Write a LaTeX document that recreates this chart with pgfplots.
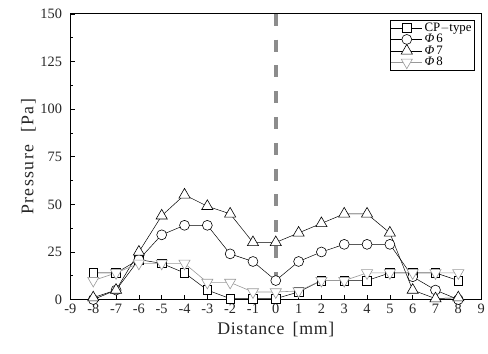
\documentclass[border=0pt]{standalone}
\usepackage{fontspec}
\setmainfont{Liberation Serif}
\usepackage{pgfplots}
\pgfplotsset{compat=1.18}
\definecolor{ltgray}{HTML}{999999}
\definecolor{dashgray}{HTML}{8C8C8C}
\begin{document}
\begin{tikzpicture}
\begin{axis}[
  name=ax,
  scale only axis,
  width=414bp, height=288bp,
  xmin=-9, xmax=9, ymin=0, ymax=150,
  xtick={-9,-8,...,9},
  ytick={0,25,...,150},
  minor ytick={12.5,37.5,...,137.5},
  tick align=inside,
  xtick pos=bottom, ytick pos=left,
  major tick length=5bp, minor tick length=3bp,
  tick style={black, line width=0.6bp},
  axis line style={line width=1.1bp},
  /pgf/number format/assume math mode=true,
  ticklabel style={font=\fontsize{14.5}{14.5}\selectfont, text=black!85},
  xticklabel style={yshift=-1bp},
  yticklabel style={xshift=-5bp},
  xlabel={\addfontfeatures{LetterSpace=4}Distance\, [mm]},
  ylabel={\addfontfeatures{LetterSpace=8}Pressure\,\, [Pa]},
  label style={font=\fontsize{18}{18}\selectfont, text=black!85},
  xlabel style={yshift=-2bp},
  ylabel style={yshift=-2bp},
  legend style={at={(0.985,0.98)}, anchor=north east, draw=black, line width=0.8bp,
    font=\fontsize{13}{13}\selectfont, inner sep=1bp, row sep=-2.5bp, fill=white},
  legend cell align=left,
  legend image code/.code={\draw[mark repeat=2,mark phase=2] plot coordinates {(0cm,0cm) (0.55cm,0cm) (1.1cm,0cm)};},
  clip=false,
]
\addplot[dashgray, line width=3.5bp, dash pattern=on 12bp off 14bp, forget plot] coordinates {(0,150) (0,0)};
\addplot[black, line width=0.5bp, mark=square*, mark size=4.3bp, mark options={fill=white, line width=0.6bp}] coordinates {
(-8,14) (-7,14) (-6,21) (-5,19) (-4,14) (-3,5) (-2,0.5) (-1,0.5) (0,0.5) (1,4) (2,10) (3,10) (4,10) (5,14) (6,14) (7,14) (8,10)};
\addlegendentry{CP$-$type}
\addplot[black, line width=0.5bp, mark=*, mark size=5bp, mark options={fill=white, line width=0.6bp}] coordinates {
(-8,0) (-7,5) (-6,21) (-5,34) (-4,39) (-3,39) (-2,24) (-1,20) (0,10) (1,20) (2,25) (3,29) (4,29) (5,29) (6,12) (7,5) (8,0)};
\addlegendentry{\textit{Φ}\,6}
\addplot[black, line width=0.5bp, mark=triangle*, mark size=6.5bp, mark options={fill=white, line width=0.6bp}] coordinates {
(-8,1) (-7,5) (-6,25) (-5,44) (-4,55) (-3,49) (-2,45) (-1,30) (0,30) (1,35) (2,40) (3,45) (4,45) (5,35) (6,5) (7,0.5) (8,1)};
\addlegendentry{\textit{Φ}\,7}
\addplot[ltgray, line width=0.6bp, mark=triangle*, mark size=6.5bp, mark options={fill=white, rotate=180, line width=0.6bp}] coordinates {
(-8,10) (-7,14) (-6,19) (-5,19) (-4,19) (-3,9) (-2,9) (-1,4) (0,4) (1,4.5) (2,10) (3,10) (4,14) (5,14) (6,14) (7,14) (8,14)};
\addlegendentry{\textit{Φ}\,8}
\end{axis}
\path ([shift={(-71bp,-54bp)}]ax.south west) rectangle ([shift={(3bp,14bp)}]ax.north east);
\end{tikzpicture}
\end{document}
